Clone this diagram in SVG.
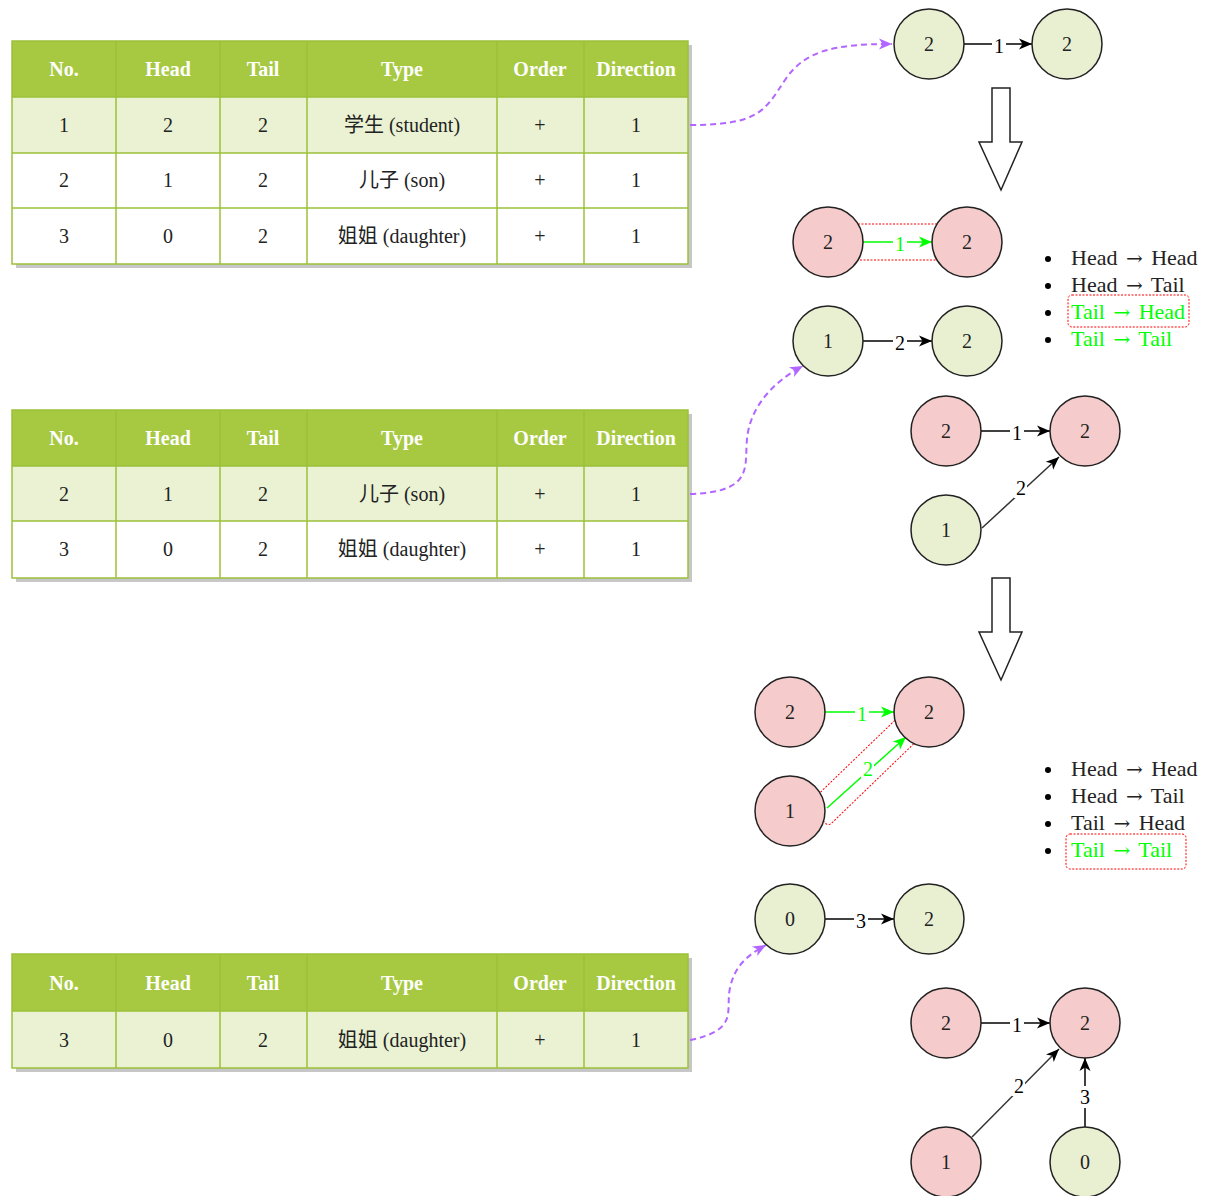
<svg xmlns="http://www.w3.org/2000/svg" width="1206" height="1196" viewBox="0 0 1206 1196">
<style>
.hdr{fill:#A7C942;}
.odd{fill:#EAF2D3;}
.even{fill:#FFFFFF;}
.grid{stroke:#9CC13A;stroke-width:1.5;fill:none;}
.shadow{fill:#000;opacity:0.22;}
.ht{font-family:"Liberation Serif",serif;font-size:20px;font-weight:bold;fill:#fff;text-anchor:middle;}
.bt{font-family:"Liberation Serif","Noto Sans CJK SC",serif;font-size:20px;fill:#222;text-anchor:middle;}
.g{fill:#E9F0D2;stroke:#222;stroke-width:1.5;}
.p{fill:#F5CCCB;stroke:#222;stroke-width:1.5;}
.nt{font-family:"Liberation Serif",serif;font-size:20px;fill:#222;text-anchor:middle;dominant-baseline:central;}
.e{stroke:#000;stroke-width:1.5;fill:none;marker-end:url(#ab);}
.eg{stroke:#00FF00;stroke-width:1.5;fill:none;marker-end:url(#ag);}
.ed{stroke:#333;stroke-width:1.5;fill:none;marker-end:url(#ab);}
.lb{font-family:"Liberation Serif",serif;font-size:20px;fill:#000;text-anchor:middle;dominant-baseline:central;}
.lbg{font-family:"Liberation Serif",serif;font-size:20px;fill:#00FF00;text-anchor:middle;dominant-baseline:central;}
.cv{stroke:#B266FF;stroke-width:2;stroke-dasharray:6 4;fill:none;marker-end:url(#ap);}
.red{stroke:#FF0000;stroke-width:1;stroke-dasharray:2 1.5;fill:none;}
.li{font-family:"Liberation Serif",serif;font-size:22px;fill:#222;}
.lig{font-family:"Liberation Serif",serif;font-size:22px;fill:#00FF00;}
.ar{font-family:"DejaVu Serif",serif;font-size:20px;}
.blk{fill:#fff;stroke:#222;stroke-width:1.5;}
</style>
<defs>
<marker id="ab" markerUnits="userSpaceOnUse" markerWidth="14" markerHeight="14" viewBox="0 0 14 14" refX="13" refY="7" orient="auto"><path d="M0,1.5 L13,7 L0,12.5 L3.5,7 Z" fill="#000"/></marker>
<marker id="ag" markerUnits="userSpaceOnUse" markerWidth="14" markerHeight="14" viewBox="0 0 14 14" refX="13" refY="7" orient="auto"><path d="M0,1.5 L13,7 L0,12.5 L3.5,7 Z" fill="#00FF00"/></marker>
<marker id="ap" markerUnits="userSpaceOnUse" markerWidth="14" markerHeight="14" viewBox="0 0 14 14" refX="13" refY="7" orient="auto"><path d="M0,1.5 L13,7 L0,12.5 L3.5,7 Z" fill="#B266FF"/></marker>
</defs>
<rect width="1206" height="1196" fill="#fff"/>

<!-- Table 1 -->
<g id="table1">
<rect class="shadow" x="16" y="45" width="676" height="223"/>
<rect class="hdr" x="12" y="41" width="676" height="56"/>
<rect class="odd" x="12" y="97" width="676" height="56"/>
<rect class="even" x="12" y="153" width="676" height="55"/>
<rect class="even" x="12" y="208" width="676" height="56"/>
<rect class="grid" x="12" y="41" width="676" height="223"/>
<path class="grid" d="M12,97H688M12,153H688M12,208H688M116,41V264M220,41V264M307,41V264M497,41V264M584,41V264"/>
<text class="ht" x="64" y="76">No.</text><text class="ht" x="168" y="76">Head</text><text class="ht" x="263" y="76">Tail</text><text class="ht" x="402" y="76">Type</text><text class="ht" x="540" y="76">Order</text><text class="ht" x="636" y="76">Direction</text>
<text class="bt" x="64" y="132">1</text><text class="bt" x="168" y="132">2</text><text class="bt" x="263" y="132">2</text><text class="bt" x="402" y="132">学生 (student)</text><text class="bt" x="540" y="132">+</text><text class="bt" x="636" y="132">1</text>
<text class="bt" x="64" y="187">2</text><text class="bt" x="168" y="187">1</text><text class="bt" x="263" y="187">2</text><text class="bt" x="402" y="187">儿子 (son)</text><text class="bt" x="540" y="187">+</text><text class="bt" x="636" y="187">1</text>
<text class="bt" x="64" y="243">3</text><text class="bt" x="168" y="243">0</text><text class="bt" x="263" y="243">2</text><text class="bt" x="402" y="243">姐姐 (daughter)</text><text class="bt" x="540" y="243">+</text><text class="bt" x="636" y="243">1</text>
</g>

<!-- Table 2 -->
<g id="table2">
<rect class="shadow" x="16" y="414" width="676" height="168"/>
<rect class="hdr" x="12" y="410" width="676" height="56"/>
<rect class="odd" x="12" y="466" width="676" height="55"/>
<rect class="even" x="12" y="521" width="676" height="57"/>
<rect class="grid" x="12" y="410" width="676" height="168"/>
<path class="grid" d="M12,466H688M12,521H688M116,410V578M220,410V578M307,410V578M497,410V578M584,410V578"/>
<text class="ht" x="64" y="445">No.</text><text class="ht" x="168" y="445">Head</text><text class="ht" x="263" y="445">Tail</text><text class="ht" x="402" y="445">Type</text><text class="ht" x="540" y="445">Order</text><text class="ht" x="636" y="445">Direction</text>
<text class="bt" x="64" y="501">2</text><text class="bt" x="168" y="501">1</text><text class="bt" x="263" y="501">2</text><text class="bt" x="402" y="501">儿子 (son)</text><text class="bt" x="540" y="501">+</text><text class="bt" x="636" y="501">1</text>
<text class="bt" x="64" y="556">3</text><text class="bt" x="168" y="556">0</text><text class="bt" x="263" y="556">2</text><text class="bt" x="402" y="556">姐姐 (daughter)</text><text class="bt" x="540" y="556">+</text><text class="bt" x="636" y="556">1</text>
</g>

<!-- Table 3 -->
<g id="table3">
<rect class="shadow" x="16" y="958" width="676" height="114"/>
<rect class="hdr" x="12" y="954" width="676" height="57"/>
<rect class="odd" x="12" y="1011" width="676" height="57"/>
<rect class="grid" x="12" y="954" width="676" height="114"/>
<path class="grid" d="M12,1011H688M116,954V1068M220,954V1068M307,954V1068M497,954V1068M584,954V1068"/>
<text class="ht" x="64" y="990">No.</text><text class="ht" x="168" y="990">Head</text><text class="ht" x="263" y="990">Tail</text><text class="ht" x="402" y="990">Type</text><text class="ht" x="540" y="990">Order</text><text class="ht" x="636" y="990">Direction</text>
<text class="bt" x="64" y="1047">3</text><text class="bt" x="168" y="1047">0</text><text class="bt" x="263" y="1047">2</text><text class="bt" x="402" y="1047">姐姐 (daughter)</text><text class="bt" x="540" y="1047">+</text><text class="bt" x="636" y="1047">1</text>
</g>

<!-- Block arrows -->
<g id="blockarrow1"><polygon class="blk" points="992,88 1010,88 1010,142 1022,142 1001,190 979,142 992,142"/></g>
<g id="blockarrow2"><polygon class="blk" points="992,578 1010,578 1010,632 1022,632 1001,680 979,632 992,632"/></g>

<!-- Connectors -->
<g id="connectors">
<path class="cv" d="M690,125 C760,125 765,110 785,80 C805,50 835,44 892,44"/>
<path class="cv" d="M690,494 C760,492 742,462 748,432 C754,400 780,378 803,366"/>
<path class="cv" d="M690,1040 C740,1030 725,1010 730,988 C735,965 748,955 766,945"/>

<path class="e" d="M964,44 H1032"/>
<path class="eg" d="M863,242 H932"/>
<path class="e" d="M863,341 H932"/>
<path class="e" d="M981,431 H1050"/>
<path class="ed" d="M982,528 L1059,457"/>
<path class="eg" d="M825,712 H894"/>
<path class="eg" d="M827,808 L906,737"/>
<path class="e" d="M825,919 H894"/>
<path class="e" d="M981,1023 H1050"/>
<path class="ed" d="M972,1137 L1059,1049"/>
<path class="e" d="M1085,1127 V1058"/>

<rect x="992" y="34" width="14" height="22" fill="#fff"/><text class="lb" x="999" y="46">1</text>
<rect x="893" y="232" width="14" height="22" fill="#fff"/><text class="lbg" x="900" y="244">1</text>
<rect x="893" y="331" width="14" height="22" fill="#fff"/><text class="lb" x="900" y="343">2</text>
<rect x="1010" y="421" width="14" height="22" fill="#fff"/><text class="lb" x="1017" y="433">1</text>
<rect x="1014" y="478" width="13" height="20" fill="#fff"/><text class="lb" x="1021" y="488">2</text>
<rect x="855" y="702" width="14" height="22" fill="#fff"/><text class="lbg" x="862" y="714">1</text>
<rect x="861" y="759" width="13" height="20" fill="#fff"/><text class="lbg" x="868" y="769">2</text>
<rect x="854" y="909" width="14" height="22" fill="#fff"/><text class="lb" x="861" y="921">3</text>
<rect x="1010" y="1013" width="14" height="22" fill="#fff"/><text class="lb" x="1017" y="1025">1</text>
<rect x="1012" y="1076" width="13" height="20" fill="#fff"/><text class="lb" x="1019" y="1086">2</text>
<rect x="1078" y="1086" width="14" height="22" fill="#fff"/><text class="lb" x="1085" y="1097">3</text>
</g>

<!-- Red highlight boxes -->
<g id="highlights">
<rect class="red" x="858" y="224" width="82" height="36"/>
<rect class="red" x="800" y="756" width="127" height="30" rx="4" transform="rotate(-44 864 771)"/>
<rect class="red" x="1068" y="295" width="121" height="32" rx="4"/>
<rect class="red" x="1066" y="834" width="120" height="35" rx="4"/>
</g>

<!-- Nodes -->
<g id="n1a"><circle class="g" cx="929" cy="44" r="35"/><text class="nt" x="929" y="44">2</text></g>
<g id="n1b"><circle class="g" cx="1067" cy="44" r="35"/><text class="nt" x="1067" y="44">2</text></g>
<g id="n2a"><circle class="p" cx="828" cy="242" r="35"/><text class="nt" x="828" y="242">2</text></g>
<g id="n2b"><circle class="p" cx="967" cy="242" r="35"/><text class="nt" x="967" y="242">2</text></g>
<g id="n3a"><circle class="g" cx="828" cy="341" r="35"/><text class="nt" x="828" y="341">1</text></g>
<g id="n3b"><circle class="g" cx="967" cy="341" r="35"/><text class="nt" x="967" y="341">2</text></g>
<g id="n4a"><circle class="p" cx="946" cy="431" r="35"/><text class="nt" x="946" y="431">2</text></g>
<g id="n4b"><circle class="p" cx="1085" cy="431" r="35"/><text class="nt" x="1085" y="431">2</text></g>
<g id="n4c"><circle class="g" cx="946" cy="530" r="35"/><text class="nt" x="946" y="530">1</text></g>
<g id="n5a"><circle class="p" cx="790" cy="712" r="35"/><text class="nt" x="790" y="712">2</text></g>
<g id="n5b"><circle class="p" cx="929" cy="712" r="35"/><text class="nt" x="929" y="712">2</text></g>
<g id="n5c"><circle class="p" cx="790" cy="811" r="35"/><text class="nt" x="790" y="811">1</text></g>
<g id="n6a"><circle class="g" cx="790" cy="919" r="35"/><text class="nt" x="790" y="919">0</text></g>
<g id="n6b"><circle class="g" cx="929" cy="919" r="35"/><text class="nt" x="929" y="919">2</text></g>
<g id="n7a"><circle class="p" cx="946" cy="1023" r="35"/><text class="nt" x="946" y="1023">2</text></g>
<g id="n7b"><circle class="p" cx="1085" cy="1023" r="35"/><text class="nt" x="1085" y="1023">2</text></g>
<g id="n7c"><circle class="p" cx="946" cy="1162" r="35"/><text class="nt" x="946" y="1162">1</text></g>
<g id="n7d"><circle class="g" cx="1085" cy="1162" r="35"/><text class="nt" x="1085" y="1162">0</text></g>

<!-- Lists -->
<g id="list1">
<circle cx="1048" cy="259" r="3"/><circle cx="1048" cy="286" r="3"/><circle cx="1048" cy="313" r="3"/><circle cx="1048" cy="340" r="3"/>
<text class="li" x="1071" y="265">Head <tspan class="ar" dx="3">→</tspan><tspan dx="3"> Head</tspan></text>
<text class="li" x="1071" y="292">Head <tspan class="ar" dx="3">→</tspan><tspan dx="3"> Tail</tspan></text>
<text class="lig" x="1071" y="319">Tail <tspan class="ar" dx="3">→</tspan><tspan dx="3"> Head</tspan></text>
<text class="lig" x="1071" y="346">Tail <tspan class="ar" dx="3">→</tspan><tspan dx="3"> Tail</tspan></text>
</g>
<g id="list2">
<circle cx="1048" cy="770" r="3"/><circle cx="1048" cy="797" r="3"/><circle cx="1048" cy="824" r="3"/><circle cx="1048" cy="851" r="3"/>
<text class="li" x="1071" y="776">Head <tspan class="ar" dx="3">→</tspan><tspan dx="3"> Head</tspan></text>
<text class="li" x="1071" y="803">Head <tspan class="ar" dx="3">→</tspan><tspan dx="3"> Tail</tspan></text>
<text class="li" x="1071" y="830">Tail <tspan class="ar" dx="3">→</tspan><tspan dx="3"> Head</tspan></text>
<text class="lig" x="1071" y="857">Tail <tspan class="ar" dx="3">→</tspan><tspan dx="3"> Tail</tspan></text>
</g>
</svg>
